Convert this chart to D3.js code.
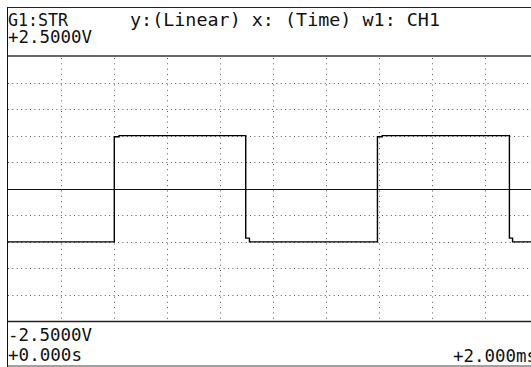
<!DOCTYPE html>
<html><head><meta charset="utf-8">
<script src="https://cdn.jsdelivr.net/npm/d3@7"></script>
<style>html,body{margin:0;padding:0;background:#fff;overflow:hidden}</style>
</head><body>
<svg id="c" width="531" height="367"></svg>
<script>
// ---- data ----
const traceTime = [0, 0.403, 0.403, 0.421, 0.421, 0.899, 0.899, 0.913, 0.913, 1.396, 1.396, 1.414, 1.414, 1.894, 1.894, 1.906, 1.906, 2.0];
const traceVolt = [-1.0, -1.0, 0.98, 0.98, 1.0, 1.0, -0.93, -0.93, -1.0, -1.0, 0.98, 0.98, 1.0, 1.0, -0.93, -0.93, -1.0, -1.0];
const xGridTicks = [0.2, 0.4, 0.6, 0.8, 1.0, 1.2, 1.4, 1.6, 1.8];
const yGridTicks = [-2.0, -1.5, -1.0, -0.5, 0.5, 1.0, 1.5, 2.0];
const headerLeft = "G1:STR";
const headerRight = "y:(Linear) x:  (Time) w1: CH1";
const yTopLabel = "+2.5000V";
const yBottomLabel = "-2.5000V";
const xStartLabel = "+0.000s";
const xEndLabel = "+2.000ms";
const xDomain = [0, 2];
const yDomain = [-2.5, 2.5];

// ---- drawing ----
const svg = d3.select("#c");
const x = d3.scaleLinear().domain(xDomain).range([7.5, 537.5]);
const y = d3.scaleLinear().domain(yDomain).range([321.5, 56]);
const font = "'DejaVu Sans Mono', monospace";

// frame
svg.append("line").attr("x1", 7.5).attr("x2", 531).attr("y1", 7.5).attr("y2", 7.5).attr("stroke", "#222").attr("stroke-width", 1.2);
svg.append("line").attr("x1", 7.5).attr("x2", 7.5).attr("y1", 7).attr("y2", 367).attr("stroke", "#111").attr("stroke-width", 1);
svg.append("line").attr("x1", 7.5).attr("x2", 531).attr("y1", y(2.5)).attr("y2", y(2.5)).attr("stroke", "#333").attr("stroke-width", 1.6);
svg.append("line").attr("x1", 7.5).attr("x2", 531).attr("y1", y(-2.5)).attr("y2", y(-2.5)).attr("stroke", "#222").attr("stroke-width", 1.4);
svg.append("line").attr("x1", 7.5).attr("x2", 531).attr("y1", 366).attr("y2", 366).attr("stroke", "#444").attr("stroke-width", 1.2);

// grid
const g = svg.append("g");
g.selectAll(".hg").data(yGridTicks).join("line")
  .attr("x1", 8).attr("x2", 531)
  .attr("y1", d => Math.round(y(d)) + 0.5).attr("y2", d => Math.round(y(d)) + 0.5)
  .attr("stroke", "#555").attr("stroke-width", 1).attr("stroke-dasharray", "1,3.4");
g.selectAll(".vg").data(xGridTicks).join("line")
  .attr("x1", d => Math.round(x(d)) + 0.5).attr("x2", d => Math.round(x(d)) + 0.5)
  .attr("y1", y(2.5) + 2).attr("y2", y(-2.5))
  .attr("stroke", "#555").attr("stroke-width", 1).attr("stroke-dasharray", "1,4.3");
// zero line
svg.append("line").attr("x1", 8).attr("x2", 531)
  .attr("y1", Math.round(y(0)) + 0.5).attr("y2", Math.round(y(0)) + 0.5)
  .attr("stroke", "#111").attr("stroke-width", 1.2);

// trace
const line = d3.line().x(d => x(d[0])).y(d => y(d[1]));
svg.append("path").datum(traceTime.map((t, i) => [t, traceVolt[i]]))
  .attr("d", line).attr("fill", "none").attr("stroke", "#000").attr("stroke-width", 1.4);

// texts
function txt(s, xx, yy, len, anchor) {
  svg.append("text").attr("x", xx).attr("y", yy).text(s)
    .attr("font-family", font).attr("font-size", 18)
    .attr("text-anchor", anchor || "start")
    .attr("textLength", len).attr("lengthAdjust", "spacingAndGlyphs")
    .attr("fill", "#111");
}
txt(headerLeft, 8, 26, 60);
txt(headerRight, 130, 26, 310);
txt(yTopLabel, 8, 43, 84);
txt(yBottomLabel, 8, 341, 84);
txt(xStartLabel, 8, 361, 74);
txt(xEndLabel, 453, 362, 84);
</script>
</body></html>
